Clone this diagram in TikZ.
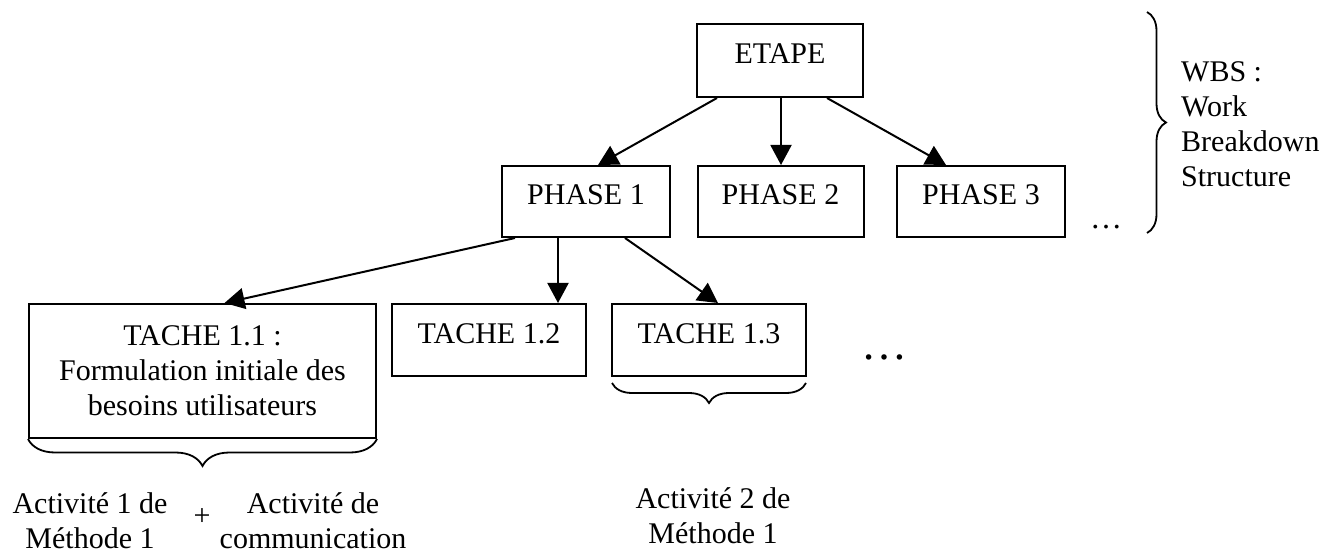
\documentclass[tikz,border=0pt]{standalone}
\usepackage{fontspec}
\setmainfont{Liberation Serif}
\usetikzlibrary{arrows.meta,calc,decorations.pathreplacing}
\tikzset{
  every node/.style={font=\fontsize{30}{35}\selectfont, inner sep=0pt},
  box/.style={draw, line width=2pt, text height=20pt, text depth=14pt},
  multibox/.style={draw, line width=2pt, align=center},
  arr/.style={line width=2pt, -{Triangle[length=20pt,width=21pt]}},
  brc/.style={line width=1.8pt, decorate, decoration={brace, amplitude=#1}},
  lbl/.style={align=center}
}
\begin{document}
\begin{tikzpicture}[x=1pt,y=-1pt]
\useasboundingbox (0,0) rectangle (1333,553);
% boxes
\node[box, minimum width=166pt, minimum height=73pt] (etape) at (780,60.5) {ETAPE};
\node[box, minimum width=168pt, minimum height=71pt] (p1) at (586,201.5) {PHASE 1};
\node[box, minimum width=166pt, minimum height=71pt] (p2) at (780.5,201.5) {PHASE 2};
\node[box, minimum width=168pt, minimum height=71pt] (p3) at (981,201.5) {PHASE 3};
\node[multibox, minimum width=347pt, minimum height=134pt] (t11) at (202.5,371) {TACHE 1.1 :\\Formulation initiale des\\besoins utilisateurs};
\node[box, minimum width=194pt, minimum height=72pt] (t12) at (489,340) {TACHE 1.2};
\node[box, minimum width=194pt, minimum height=72pt] (t13) at (709,340) {TACHE 1.3};
% arrows
\draw[arr] ($(etape.south)+(-63,0)$) -- ($(p1.north)+(12,0)$);
\draw[arr] ($(etape.south)+(1,0)$) -- ($(p2.north)+(0.5,0)$);
\draw[arr] ($(etape.south)+(47,0)$) -- ($(p3.north)+(-35,0)$);
\draw[arr] ($(p1.south)+(-71,0)$) -- ($(t11.north)+(22,0)$);
\draw[arr] ($(p1.south)+(-28,0)$) -- ($(t12.north)+(69,0)$);
\draw[arr] ($(p1.south)+(39,0)$) -- ($(t13.north)+(9,0)$);
% ellipses
\node (dots1) at (1106,227) {\fontsize{32}{32}\selectfont …};
\node (dots2) at (884,357) {\fontsize{46}{46}\selectfont …};
% braces
\coordinate (rb1) at (1147,12);
\coordinate (rb2) at (1147,233);
\draw[brc=19pt] (rb1) -- (rb2);
\draw[brc=27pt] (t11.south east) -- (t11.south west);
\coordinate (b13a) at (806,383);
\coordinate (b13b) at (612,383);
\draw[brc=20pt] (b13a) -- (b13b);
% labels
\node[align=left, anchor=west] (wbs) at (1181,124) {WBS :\\Work\\Breakdown\\Structure};
\node[lbl] (a1) at (90,520.5) {Activité 1 de\\Méthode 1};
\node (plus) at (202,517) {+};
\node[lbl] (ac) at (313,520.5) {Activité de\\communication};
\node[lbl] (a2) at (713,516) {Activité 2 de\\Méthode 1};
\end{tikzpicture}
\end{document}
